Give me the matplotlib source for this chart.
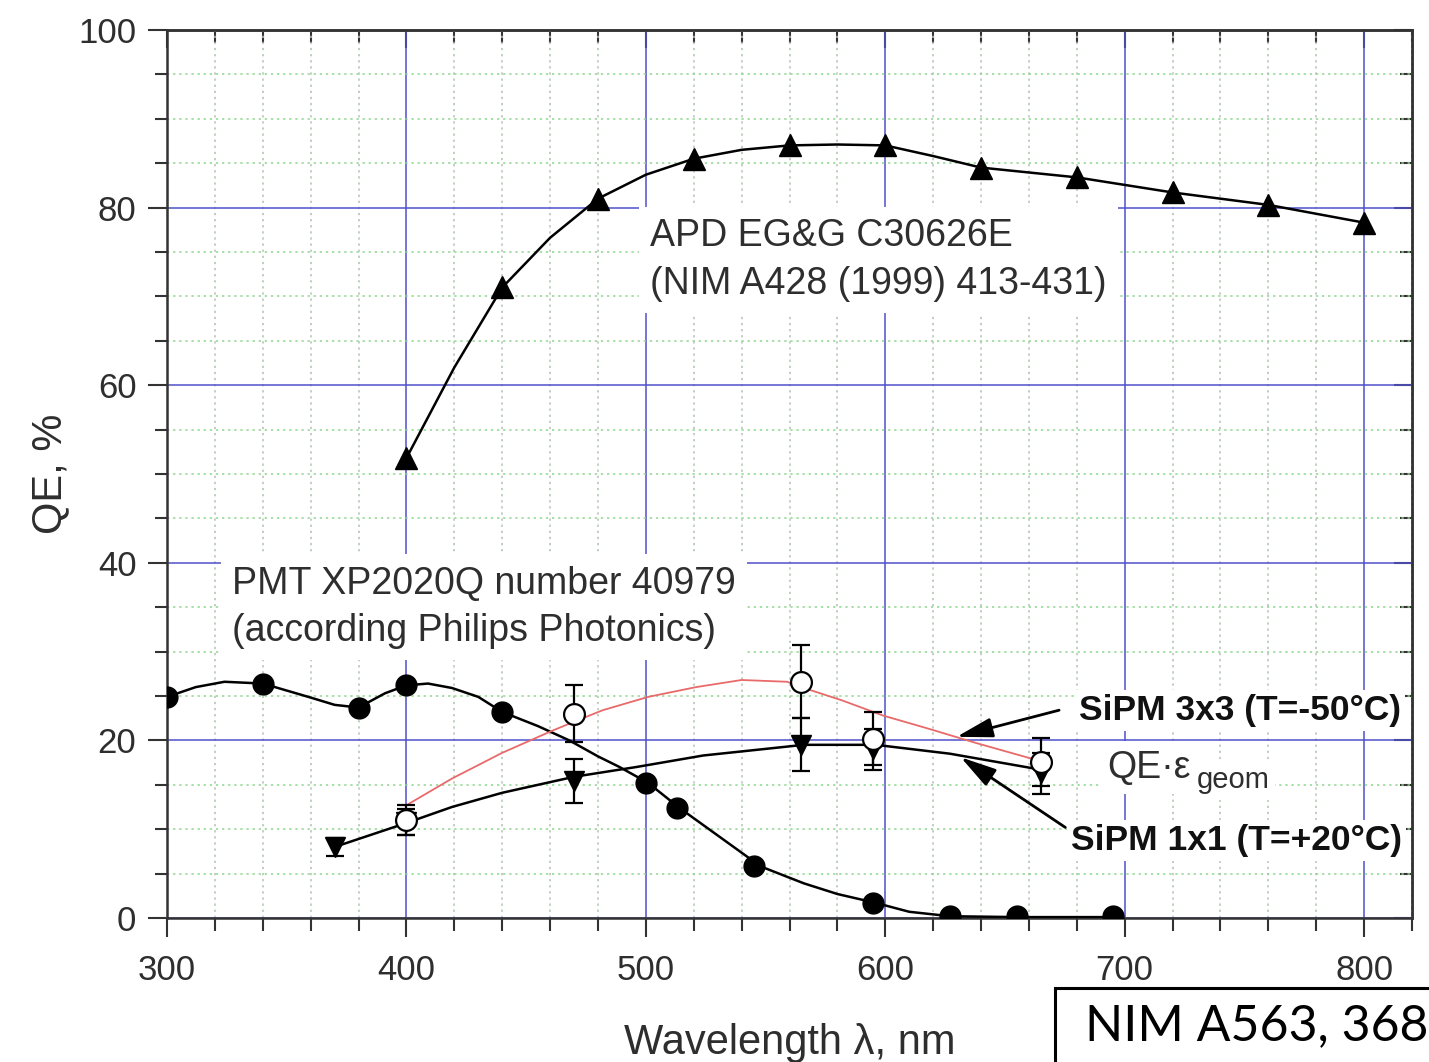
import matplotlib.pyplot as plt
import matplotlib.patches as patches
from matplotlib.ticker import MultipleLocator

plt.rcParams['font.family'] = ['Liberation Sans', 'DejaVu Sans']

# APD EG&G C30626E - measured points and traced curve
apd_x = [400, 440, 480, 520, 560, 600, 640, 680, 720, 760, 800]
apd_y = [51.8, 71.0, 81.0, 85.5, 87.0, 87.0, 84.5, 83.4, 81.7, 80.3, 78.3]
apd_line_x = [400, 420, 440, 460, 480, 500, 520, 540, 560, 580, 600, 620, 640, 680, 720, 760, 800]
apd_line_y = [51.8, 62.0, 71.0, 76.6, 81.0, 83.7, 85.5, 86.5, 87.0, 87.1, 87.0, 85.8, 84.5, 83.4, 81.7, 80.3, 78.3]

# PMT XP2020Q
pmt_x = [300, 340, 380, 400, 440, 500, 513, 545, 595, 627, 655, 695]
pmt_y = [24.9, 26.4, 23.7, 26.2, 23.2, 15.2, 12.4, 5.8, 1.7, 0.2, 0.2, 0.2]
pmt_line_x = [300, 312, 324, 340, 359, 370, 380, 391, 400, 409, 419, 430, 440, 455,
              468, 480, 489, 501, 514, 531, 548, 566, 580, 596, 610, 627, 655, 695]
pmt_line_y = [24.9, 26.0, 26.6, 26.4, 24.9, 24.0, 23.7, 25.3, 26.2, 26.4, 25.9, 24.9, 23.2, 21.6,
              20.0, 18.2, 17.0, 15.2, 12.4, 9.1, 5.8, 3.9, 2.7, 1.7, 0.7, 0.2, 0.1, 0.1]

# SiPM 1x1 (T=+20C)
sipm1_x = [370, 400, 470, 565, 595, 665]
sipm1_y = [8.0, 10.8, 15.4, 19.5, 19.0, 16.3]
sipm1_err = [1.0, 1.5, 2.5, 3.0, 2.3, 2.3]
sipm1_line_x = [370, 400, 419, 440, 470, 496, 524, 552, 566, 596, 627, 665]
sipm1_line_y = [8.0, 10.7, 12.5, 14.1, 15.9, 17.0, 18.3, 19.1, 19.5, 19.5, 18.5, 16.7]

# SiPM 3x3 (T=-50C)
sipm3_x = [400, 470, 565, 595, 665]
sipm3_y = [11.0, 23.0, 26.6, 20.2, 17.6]
sipm3_err = [1.7, 3.2, 4.1, 3.0, 2.7]
sipm3_line_x = [400, 419, 440, 461, 470, 482, 501, 521, 540, 559, 566, 582, 599, 617, 638, 663]
sipm3_line_y = [12.7, 15.7, 18.6, 21.1, 22.1, 23.4, 24.9, 26.0, 26.8, 26.6, 25.9, 24.5, 22.8, 21.4, 19.7, 17.8]

txt = '#2e2e2e'

fig = plt.figure(figsize=(14.29, 10.62), dpi=100)
ax = fig.add_axes([0.1169, 0.1356, 0.8712, 0.8362])
ax.set_xlim(300, 820)
ax.set_ylim(0, 100)

ax.xaxis.set_major_locator(MultipleLocator(100))
ax.xaxis.set_minor_locator(MultipleLocator(20))
ax.yaxis.set_major_locator(MultipleLocator(20))
ax.yaxis.set_minor_locator(MultipleLocator(5))

# grid: blue major lines, green dotted minor lines
ax.set_axisbelow(True)
ax.grid(which='major', color='#5050cc', lw=1.1)
ax.grid(which='minor', axis='y', color='#8fd68f', lw=1.1, ls=(0, (1.5, 2.5)))
ax.grid(which='minor', axis='x', color='#b0c4b0', lw=1.1, ls=(0, (1.5, 2.5)))

for s in ax.spines.values():
    s.set_linewidth(1.8)
    s.set_color('#333333')

ax.tick_params(which='both', direction='out', width=1.5, color='#333333',
               labelsize=25, labelcolor=txt, top=False, right=False)
ax.tick_params(which='major', length=14)
ax.tick_params(which='minor', length=9)
ax.tick_params(axis='x', pad=12)
ax.tick_params(axis='y', pad=8)

# inward ticks on top and right
top = ax.secondary_xaxis('top')
top.xaxis.set_major_locator(MultipleLocator(100))
top.xaxis.set_minor_locator(MultipleLocator(20))
top.tick_params(which='both', direction='in', width=1.5, color='#333333', labeltop=False)
top.tick_params(which='major', length=13)
top.tick_params(which='minor', length=9)
right = ax.secondary_yaxis('right')
right.yaxis.set_major_locator(MultipleLocator(20))
right.yaxis.set_minor_locator(MultipleLocator(5))
right.tick_params(which='both', direction='in', width=1.5, color='#333333', labelright=False)
right.tick_params(which='major', length=13)
right.tick_params(which='minor', length=9)
for sec in (top, right):
    for s in sec.spines.values():
        s.set_linewidth(1.8)
        s.set_color('#333333')

# curves
ax.plot(apd_line_x, apd_line_y, color='black', lw=1.8, zorder=3)
ax.plot(apd_x, apd_y, ls='none', marker='^', ms=16, color='black', zorder=4)

ax.plot(pmt_line_x, pmt_line_y, color='black', lw=1.8, zorder=3)
ax.plot(pmt_x, pmt_y, ls='none', marker='o', ms=15, color='black', zorder=4)

ax.plot(sipm1_line_x, sipm1_line_y, color='black', lw=1.8, zorder=3)
ax.errorbar(sipm1_x, sipm1_y, yerr=sipm1_err, fmt='none', ecolor='black',
            elinewidth=1.6, capsize=6.5, capthick=1.6, zorder=4)
ax.plot(sipm1_x, sipm1_y, ls='none', marker='v', ms=15, color='black', zorder=5)

ax.plot(sipm3_line_x, sipm3_line_y, color='#e86a6a', lw=1.3, zorder=3)
ax.errorbar(sipm3_x, sipm3_y, yerr=sipm3_err, fmt='none', ecolor='black',
            elinewidth=1.6, capsize=6.5, capthick=1.6, zorder=5)
ax.plot(sipm3_x, sipm3_y, ls='none', marker='o', ms=15, mfc='white', mec='black',
        mew=1.6, zorder=6)

# labels inside the plot (baseline = last line)
box = dict(fc='white', ec='none', pad=8)
ax.text(501.8, 70.3, 'APD EG&G C30626E\n(NIM A428 (1999) 413-431)', fontsize=27,
        color=txt, va='baseline', linespacing=1.4, bbox=box, zorder=1)
ax.text(327.3, 31.2, 'PMT XP2020Q number 40979\n(according Philips Photonics)', fontsize=27,
        color=txt, va='baseline', linespacing=1.4, bbox=box, zorder=1)
ax.text(681.0, 22.3, 'SiPM 3x3 (T=-50°C)', fontsize=25.5, weight='bold', color='#111111',
        va='baseline', bbox=dict(fc='white', ec='none', pad=3), zorder=1)
ax.text(677.5, 7.65, 'SiPM 1x1 (T=+20°C)', fontsize=25.5, weight='bold', color='#111111',
        va='baseline', bbox=dict(fc='white', ec='none', pad=3), zorder=1)
ax.text(692.8, 15.8, 'QE·ε', fontsize=27, color=txt, va='baseline',
        bbox=dict(fc='white', ec='none', pad=6), zorder=1)
ax.text(730.0, 14.6, 'geom', fontsize=21, color=txt, va='baseline',
        bbox=dict(fc='white', ec='none', pad=4), zorder=1)

arrow = dict(arrowstyle='-|>,head_length=1.1,head_width=0.3', color='black',
             lw=2.0, mutation_scale=20, shrinkA=0, shrinkB=0)
ax.annotate('', xy=(629.8, 20.4), xytext=(672.6, 23.4), arrowprops=arrow, zorder=7)
ax.annotate('', xy=(631.5, 18.1), xytext=(675.2, 10.2), arrowprops=arrow, zorder=7)

ax.set_xlabel('Wavelength λ, nm', fontsize=30, color=txt)
ax.set_ylabel('QE, %', fontsize=30, color=txt)
ax.xaxis.set_label_coords(0.5, -0.118)
ax.yaxis.set_label_coords(-0.078, 0.5)

# reference box in the lower right corner
fig.patches.append(patches.Rectangle((1055 / 1429, -0.05), 0.5, (1062 - 988) / 1062 + 0.05,
                                     transform=fig.transFigure, fill=False,
                                     ec='black', lw=2.2))
fig.text(1085 / 1429, 1 - 1040 / 1062, 'NIM A563, 368', fontsize=36, family='Lato',
         color='black', va='baseline')

fig.savefig('out.png', dpi=100)
